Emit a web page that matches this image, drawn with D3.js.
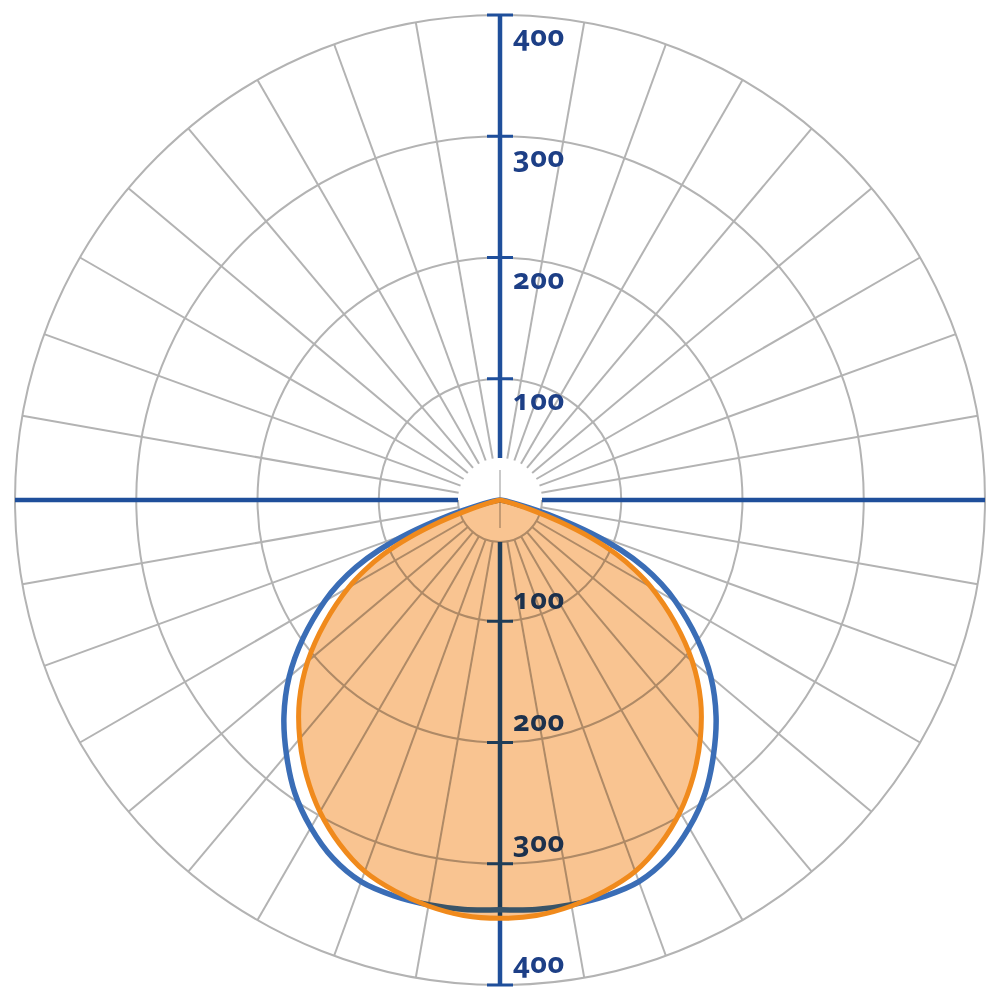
<!DOCTYPE html>
<html>
<head>
<meta charset="utf-8">
<script src="https://cdn.jsdelivr.net/npm/d3@7"></script>
<style>
  html, body { margin: 0; padding: 0; background: #ffffff; }
  svg { display: block; }
</style>
</head>
<body>
<svg id="chart" width="1000" height="1000"></svg>
<script>
// ---- data (gamma angle in degrees from nadir, symmetric both sides) ----
const gammaAngles = [0, 5, 10, 15, 20, 25, 30, 35, 40, 45, 50, 55, 60, 62.5, 65, 67.5, 70, 72.5, 75, 80, 85, 90];
const orangeValues = [345, 344, 340, 334, 326, 313, 297, 278, 257, 234, 207, 176, 144, 126, 106, 81, 53, 27, 10, 1, 0, 0];
const blueValues   = [338, 339, 339, 338, 335, 326, 312, 295, 274, 252, 227, 198, 167, 150, 131, 108, 80, 50, 25, 5, 0, 0];
const ringValues = [100, 200, 300, 400];
const tickLabels = ["100", "200", "300", "400"];

// ---- layout ----
const cx = 500, cy = 500;
const rScale = d3.scaleLinear().domain([0, 400]).range([0, 485]);
const holeR = 42;

const svg = d3.select("#chart");
svg.append("rect").attr("width", 1000).attr("height", 1000).attr("fill", "#ffffff");
const root = svg.append("g").attr("transform", `translate(${cx},${cy})`);

// build closed polygon points from symmetric data
function buildPoints(values) {
  const pts = [];
  for (let i = gammaAngles.length - 1; i >= 0; i--) pts.push({g: -gammaAngles[i], v: values[i]});
  for (let i = 1; i < gammaAngles.length; i++) pts.push({g: gammaAngles[i], v: values[i]});
  const xy = pts.map(p => {
    const a = p.g * Math.PI / 180;
    const r = rScale(p.v);
    return [r * Math.sin(a), r * Math.cos(a)];
  });
  const out = [];
  xy.forEach(p => {
    const last = out[out.length - 1];
    if (!last || Math.hypot(last[0] - p[0], last[1] - p[1]) > 0.01) out.push(p);
  });
  while (out.length > 1 && Math.hypot(out[0][0] - out[out.length - 1][0], out[0][1] - out[out.length - 1][1]) < 0.01) out.pop();
  return out;
}

const lineGen = d3.line().curve(d3.curveCatmullRomClosed.alpha(0.5));
const orangePts = buildPoints(orangeValues);
const bluePts = buildPoints(blueValues);

// orange fill (bottom layer)
root.append("path")
  .attr("d", lineGen(orangePts))
  .attr("fill", "#f9c491")
  .attr("stroke", "none");

// everything else multiplied over the fill
const mult = root.append("g").style("mix-blend-mode", "multiply");

const gridColor = "#b3b3b3";
mult.selectAll("circle.ring").data(ringValues).enter().append("circle")
  .attr("class", "ring")
  .attr("r", d => rScale(d))
  .attr("fill", "none")
  .attr("stroke", gridColor)
  .attr("stroke-width", 2);

const spokeAngles = d3.range(0, 360, 10).filter(a => a % 90 !== 0);
mult.selectAll("line.spoke").data(spokeAngles).enter().append("line")
  .attr("class", "spoke")
  .attr("x1", d => holeR * Math.sin(d * Math.PI / 180))
  .attr("y1", d => holeR * Math.cos(d * Math.PI / 180))
  .attr("x2", d => rScale(400) * Math.sin(d * Math.PI / 180))
  .attr("y2", d => rScale(400) * Math.cos(d * Math.PI / 180))
  .attr("stroke", gridColor)
  .attr("stroke-width", 2);

mult.append("path")
  .attr("d", d3.arc()({innerRadius: holeR, outerRadius: holeR, startAngle: Math.PI / 2, endAngle: 3 * Math.PI / 2}))
  .attr("fill", "none")
  .attr("stroke", gridColor)
  .attr("stroke-width", 2);
mult.append("line")
  .attr("x1", 0).attr("x2", 0).attr("y1", -30).attr("y2", 28)
  .attr("stroke", "#c9c9c9").attr("stroke-width", 2);

const axisColor = "#1f4f9b";
const R = rScale(400);
[[-R, 0, -holeR, 0], [holeR, 0, R, 0], [0, -R, 0, -holeR], [0, holeR, 0, R]].forEach(s => {
  mult.append("line")
    .attr("x1", s[0]).attr("y1", s[1]).attr("x2", s[2]).attr("y2", s[3])
    .attr("stroke", axisColor).attr("stroke-width", 4.5);
});

ringValues.forEach(v => {
  [-1, 1].forEach(dir => {
    mult.append("line")
      .attr("x1", -13).attr("x2", 13)
      .attr("y1", dir * rScale(v)).attr("y2", dir * rScale(v))
      .attr("stroke", axisColor).attr("stroke-width", 3);
  });
});

const labelStyle = sel => sel
  .attr("fill", "#1d3f86")
  .attr("font-family", "'Open Sans', 'DejaVu Sans', sans-serif")
  .attr("font-weight", 700)
  .attr("font-size", 29)
  .style("font-feature-settings", "'onum' 1")
  .style("letter-spacing", "0.5px");

ringValues.forEach((v, i) => {
  mult.append("text").call(labelStyle)
    .attr("x", 13).attr("y", -rScale(v) + 31)
    .text(tickLabels[i]);
  mult.append("text").call(labelStyle)
    .attr("x", 13).attr("y", rScale(v) - 12)
    .text(tickLabels[i]);
});

mult.append("path")
  .attr("d", lineGen(bluePts))
  .attr("fill", "none")
  .attr("stroke", "#3a6db6")
  .attr("stroke-width", 5.5)
  .attr("stroke-linejoin", "round");

root.append("path")
  .attr("d", lineGen(orangePts))
  .attr("fill", "none")
  .attr("stroke", "#f08a1c")
  .attr("stroke-width", 5)
  .attr("stroke-linejoin", "round");
</script>
</body>
</html>
